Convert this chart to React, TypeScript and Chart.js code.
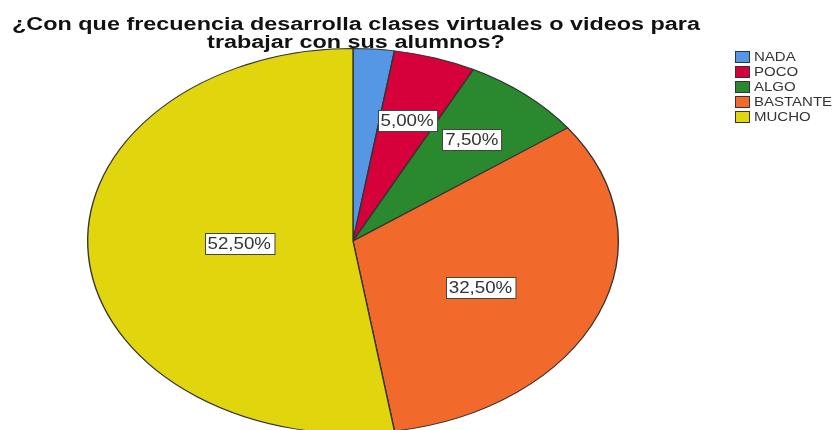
import React, { useEffect, useRef } from "react";
import { Chart, registerables } from "chart.js";

Chart.register(...registerables);

const categories = ["NADA", "POCO", "ALGO", "BASTANTE", "MUCHO"];
const percentages = [2.5, 5.0, 7.5, 32.5, 52.5];
const sliceColors = ["#5597E4", "#D6003A", "#2A892E", "#F26A2B", "#E1D60E"];
const titleLines = [
  "¿Con que frecuencia desarrolla clases virtuales o videos para",
  "trabajar con sus alumnos?",
];

const STRETCH = 266 / 193;
const FONT = '"Liberation Sans", Arial, Helvetica, sans-serif';

function drawScaledText(
  ctx: CanvasRenderingContext2D,
  text: string,
  x: number,
  y: number,
  sx: number,
  align: CanvasTextAlign
) {
  ctx.save();
  ctx.translate(x, y);
  ctx.scale(sx, 1);
  ctx.textAlign = align;
  ctx.fillText(text, 0, 0);
  ctx.restore();
}

// per-slice placement (radial fractions in x and y) for the value boxes
const labelPlacement: (number[] | null)[] = [null, [0.66, 0.66], [0.69, 0.69], [0.52, 0.63], [0.43, 0.15]];

const ellipsePlugin = {
  id: "ellipse",
  beforeDatasetsDraw(chart: any) {
    const meta = chart.getDatasetMeta(0);
    const arc = meta.data[0];
    const ctx = chart.ctx;
    ctx.save();
    ctx.translate(arc.x, arc.y);
    ctx.scale(STRETCH, 1);
    ctx.translate(-arc.x, -arc.y);
  },
  afterDatasetsDraw(chart: any) {
    chart.ctx.restore();
  },
};

const decorPlugin = {
  id: "decor",
  afterDraw(chart: any) {
    const ctx: CanvasRenderingContext2D = chart.ctx;
    const meta = chart.getDatasetMeta(0);
    const cx = meta.data[0].x;

    // title
    ctx.save();
    ctx.fillStyle = "#111";
    ctx.font = `bold 18px ${FONT}`;
    ctx.textBaseline = "alphabetic";
    drawScaledText(ctx, titleLines[0], cx + 3, 29.5, 1.3, "center");
    drawScaledText(ctx, titleLines[1], cx + 3, 47.5, 1.3, "center");
    ctx.restore();

    // value labels
    ctx.save();
    ctx.font = `16px ${FONT}`;
    ctx.textBaseline = "middle";
    meta.data.forEach((arc: any, i: number) => {
      const place = labelPlacement[i];
      if (!place) return;
      const mid = (arc.startAngle + arc.endAngle) / 2;
      const r = arc.outerRadius;
      const px = arc.x + Math.cos(mid) * r * place[0] * STRETCH;
      const py = arc.y + Math.sin(mid) * r * place[1];
      const text = percentages[i].toFixed(2).replace(".", ",") + "%";
      const sx = 1.17;
      const w = ctx.measureText(text).width * sx + 6;
      const h = 21;
      const bx = Math.round(px - w / 2) + 0.5;
      const by = Math.round(py - h / 2) + 0.5;
      ctx.fillStyle = "#ffffff";
      ctx.fillRect(bx, by, w, h);
      ctx.strokeStyle = "#444";
      ctx.lineWidth = 1;
      ctx.strokeRect(bx, by, w, h);
      ctx.fillStyle = "#333";
      drawScaledText(ctx, text, px, py + 1, sx, "center");
    });
    ctx.restore();

    // legend
    ctx.save();
    ctx.font = `12.5px ${FONT}`;
    ctx.textBaseline = "middle";
    categories.forEach((cat, i) => {
      const y = 57 + i * 15;
      ctx.fillStyle = sliceColors[i];
      ctx.fillRect(735, y - 5, 14, 10);
      ctx.strokeStyle = "#333";
      ctx.lineWidth = 1;
      ctx.strokeRect(735.5, y - 5.5, 14, 11);
      ctx.fillStyle = "#333";
      drawScaledText(ctx, cat, 754, y + 0.5, 1.2, "left");
    });
    ctx.restore();
  },
};

export default function App() {
  const canvasRef = useRef<HTMLCanvasElement | null>(null);

  useEffect(() => {
    const canvas = canvasRef.current;
    if (!canvas) return;
    const chart = new Chart(canvas, {
      type: "pie",
      data: {
        labels: categories,
        datasets: [
          {
            data: percentages,
            backgroundColor: sliceColors,
            borderColor: "#333333",
            borderWidth: 1,
          },
        ],
      },
      options: {
        responsive: false,
        animation: false,
        events: [],
        layout: { padding: { left: 160, right: 289, top: 48, bottom: 66 } },
        plugins: {
          legend: { display: false },
          title: { display: false },
          tooltip: { enabled: false },
        },
      },
      plugins: [ellipsePlugin, decorPlugin],
    });
    return () => chart.destroy();
  }, []);

  return (
    <div
      style={{
        position: "fixed",
        left: 0,
        top: 0,
        width: 835,
        height: 430,
        overflow: "hidden",
        background: "#ffffff",
      }}
    >
      <canvas ref={canvasRef} width={835} height={500} style={{ display: "block" }} />
    </div>
  );
}
